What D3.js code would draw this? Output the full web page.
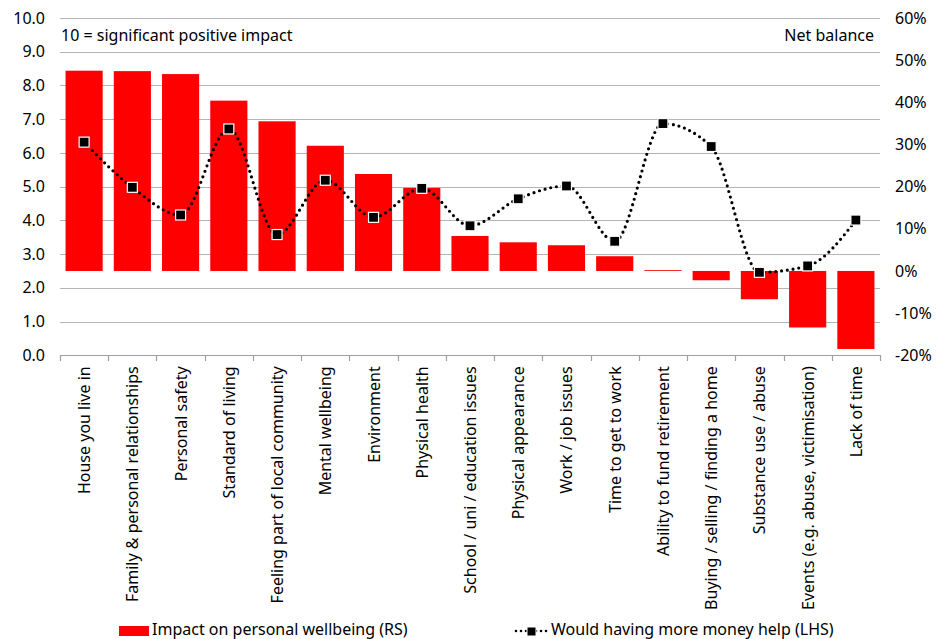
<!DOCTYPE html>
<html>
<head>
<meta charset="utf-8">
<script src="https://cdn.jsdelivr.net/npm/d3@7"></script>
<style>
  html, body { margin: 0; padding: 0; background: #fff; }
  svg { display: block; font-family: "Noto Sans", "Open Sans", sans-serif; }
</style>
</head>
<body>
<svg id="chart" width="948" height="639"></svg>
<script>
// Categories along the x axis
const categories = [
  "House you live in",
  "Family & personal relationships",
  "Personal safety",
  "Standard of living",
  "Feeling part of local community",
  "Mental wellbeing",
  "Environment",
  "Physical health",
  "School / uni / education issues",
  "Physical appearance",
  "Work / job issues",
  "Time to get to work",
  "Ability to fund retirement",
  "Buying / selling / finding a home",
  "Substance use / abuse",
  "Events (e.g. abuse, victimisation)",
  "Lack of time"
];

// Impact on personal wellbeing, net balance in % (right-hand scale)
const impactNetBalance = [47.5, 47.4, 46.7, 40.4, 35.5, 29.7, 23.0, 19.7, 8.3, 6.8, 6.1, 3.5, 0.2, -2.2, -6.7, -13.4, -18.5];

// Would having more money help, score 0-10 (left-hand scale)
const moneyHelpScore = [6.32, 4.98, 4.16, 6.71, 3.58, 5.19, 4.09, 4.95, 3.84, 4.64, 5.02, 3.38, 6.87, 6.19, 2.46, 2.65, 4.01];

// Axis ticks
const leftTicks = [0, 1, 2, 3, 4, 5, 6, 7, 8, 9, 10];
const rightTicks = [-20, -10, 0, 10, 20, 30, 40, 50, 60];

const svg = d3.select("#chart");
const margin = { left: 60, right: 68, top: 18, bottom: 284 };
const W = 948, H = 639;
const x0 = margin.left, x1 = W - margin.right;
const yTop = margin.top, yBot = H - margin.bottom + 0.3;

const x = d3.scaleBand().domain(categories).range([x0, x1]).paddingInner(0.23).paddingOuter(0.115);
const yL = d3.scaleLinear().domain([0, 10]).range([yBot, yTop]);
const yR = d3.scaleLinear().domain([-20, 60]).range([yBot, yTop]);

const fontSize = 16;

// Gridlines
svg.append("g")
  .selectAll("line")
  .data(leftTicks)
  .join("line")
  .attr("x1", x0).attr("x2", x1)
  .attr("y1", d => Math.round(yL(d)) + 0.5)
  .attr("y2", d => Math.round(yL(d)) + 0.5)
  .attr("stroke", "#b4b4b4")
  .attr("stroke-width", 1.2);

// Left axis
const leftAxis = svg.append("g")
  .attr("transform", `translate(${x0},0)`)
  .call(d3.axisLeft(yL).tickValues(leftTicks).tickFormat(d3.format(".1f")).tickSize(0).tickPadding(15));
leftAxis.select(".domain").remove();
leftAxis.selectAll("text").attr("font-size", fontSize).attr("fill", "#000").attr("font-family", "Noto Sans, sans-serif");

// Right axis
const rightAxis = svg.append("g")
  .attr("transform", `translate(${x1},0)`)
  .call(d3.axisRight(yR).tickValues(rightTicks).tickFormat(d => d + "%").tickSize(0).tickPadding(15));
rightAxis.select(".domain").remove();
rightAxis.selectAll("text").attr("font-size", fontSize).attr("fill", "#000").attr("font-family", "Noto Sans, sans-serif");

// Bars from the zero line of the right-hand scale
svg.append("g")
  .selectAll("rect")
  .data(categories)
  .join("rect")
  .attr("x", d => x(d))
  .attr("width", x.bandwidth())
  .attr("y", (d, i) => yR(Math.max(0, impactNetBalance[i])))
  .attr("height", (d, i) => Math.max(0.8, Math.abs(yR(impactNetBalance[i]) - yR(0))))
  .attr("fill", "#ff0000");

// Bottom axis with category separators
const bottomAxis = d3.scaleLinear().domain([0, categories.length]).range([x0, x1]);
const bx = svg.append("g");
bx.append("line")
  .attr("x1", x0).attr("x2", x1)
  .attr("y1", Math.round(yBot) + 0.5).attr("y2", Math.round(yBot) + 0.5)
  .attr("stroke", "#a0a0a0").attr("stroke-width", 1.2);
bx.selectAll("line.tick")
  .data(d3.range(categories.length + 1))
  .join("line")
  .attr("class", "tick")
  .attr("x1", d => Math.round(bottomAxis(d)) + 0.5)
  .attr("x2", d => Math.round(bottomAxis(d)) + 0.5)
  .attr("y1", Math.round(yBot)).attr("y2", Math.round(yBot) + 6)
  .attr("stroke", "#a0a0a0").attr("stroke-width", 1.2);

// Category labels, rotated
svg.append("g")
  .selectAll("text")
  .data(categories)
  .join("text")
  .attr("transform", d => `translate(${x(d) + x.bandwidth() / 2 + 6},${yBot + 11}) rotate(-90)`)
  .attr("text-anchor", "end")
  .attr("font-size", fontSize)
  .attr("fill", "#000")
  .text(d => d);

// Smoothed dotted line for the money-help score
const line = d3.line()
  .x((d, i) => x(categories[i]) + x.bandwidth() / 2)
  .y(d => yL(d))
  .curve(d3.curveMonotoneX);

svg.append("path")
  .datum(moneyHelpScore)
  .attr("d", line)
  .attr("fill", "none")
  .attr("stroke", "#000")
  .attr("stroke-width", 3.2)
  .attr("stroke-linecap", "round")
  .attr("stroke-dasharray", "0 5.8");

// Square markers
const ms = 10;
svg.append("g")
  .selectAll("rect")
  .data(moneyHelpScore)
  .join("rect")
  .attr("x", (d, i) => x(categories[i]) + x.bandwidth() / 2 - ms / 2)
  .attr("y", d => yL(d) - ms / 2)
  .attr("width", ms).attr("height", ms)
  .attr("fill", "#000")
  .attr("stroke", "#fff")
  .attr("stroke-width", 1.2);

// Scale notes
svg.append("text")
  .attr("x", x0 + 1).attr("y", 41)
  .attr("font-size", fontSize)
  .attr("fill", "#000")
  .text("10 = significant positive impact");
svg.append("text")
  .attr("x", x1 - 6).attr("y", 41)
  .attr("text-anchor", "end")
  .attr("font-size", fontSize)
  .attr("fill", "#000")
  .text("Net balance");

// Legend
const legend = svg.append("g");
legend.append("rect")
  .attr("x", 119).attr("y", 626).attr("width", 30).attr("height", 10)
  .attr("fill", "#ff0000");
legend.append("text")
  .attr("x", 152).attr("y", 635)
  .attr("font-size", 16).attr("fill", "#000")
  .text("Impact on personal wellbeing (RS)");

legend.append("line")
  .attr("x1", 516).attr("x2", 548)
  .attr("y1", 631).attr("y2", 631)
  .attr("stroke", "#000").attr("stroke-width", 2.6)
  .attr("stroke-linecap", "round")
  .attr("stroke-dasharray", "0 5");
legend.append("rect")
  .attr("x", 527).attr("y", 627).attr("width", 9).attr("height", 9)
  .attr("fill", "#000").attr("stroke", "#fff").attr("stroke-width", 1);
legend.append("text")
  .attr("x", 551).attr("y", 635)
  .attr("font-size", 16).attr("fill", "#000")
  .text("Would having more money help (LHS)");
</script>
</body>
</html>
